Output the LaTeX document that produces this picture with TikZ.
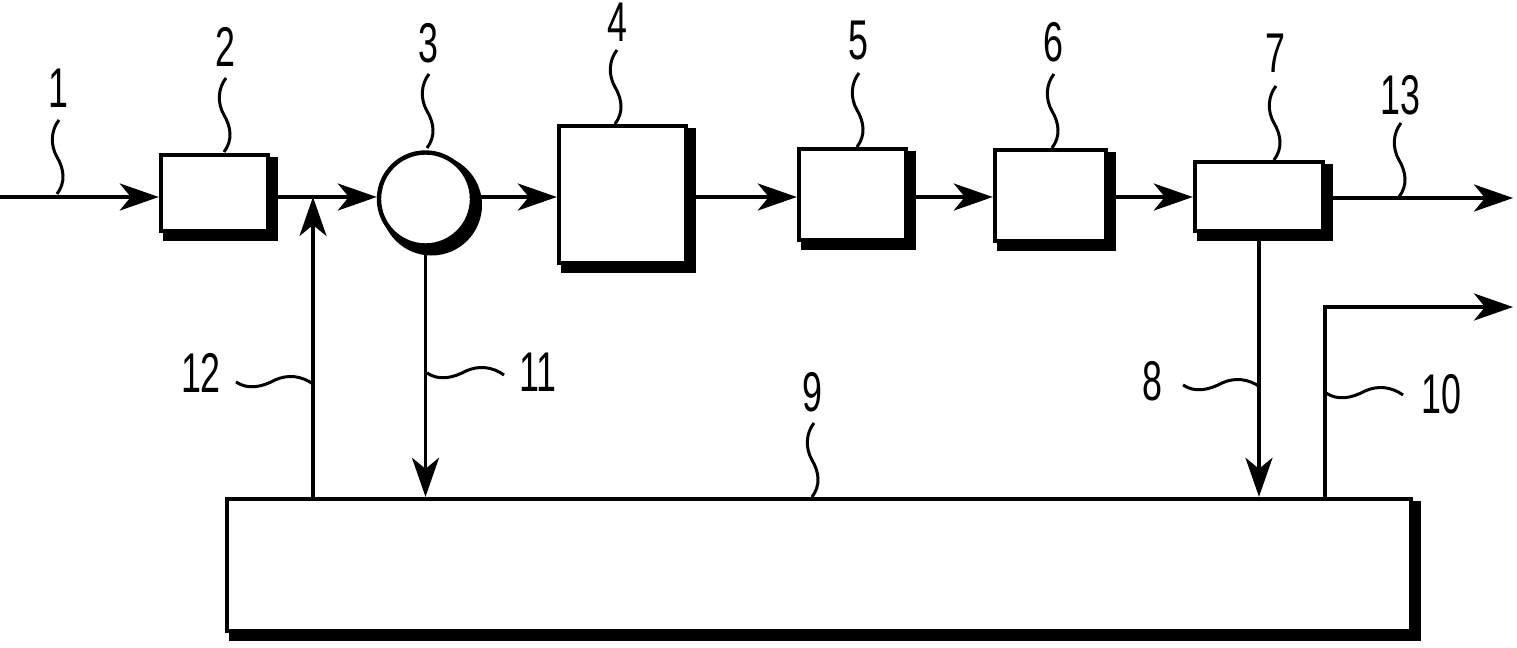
\documentclass[tikz,border=0pt]{standalone}
\usepackage{fontspec}
\setmainfont{Liberation Sans}
\usepackage{graphicx}
\usetikzlibrary{arrows.meta,shadows}
\newcommand\narrow[1]{\scalebox{0.64}[1]{#1}}
\begin{document}
\begin{tikzpicture}[x=0.5pt,y=-0.5pt,
  shd/.style={drop shadow={shadow xshift=3pt, shadow yshift=-3pt, opacity=1, fill=black, draw=black, line width=4pt}},
  blk/.style={draw, fill=white, line width=2.2pt, rectangle, inner sep=0pt, shd},
  ring/.style={draw, fill=white, line width=2.2pt, circle, inner sep=0pt, minimum size=46.5pt, shd},
  conn/.style={line width=1.8pt, -{Stealth[length=19.5pt, width=13.5pt, inset=5.5pt]}},
  plain/.style={line width=1.8pt},
  sq/.style={line width=1.5pt},
  lab/.style={font=\fontsize{28}{30}\selectfont, inner sep=0pt},
  vsq/.pic={\draw[sq] (0,0) .. controls (-8,10) and (-9,25) .. (-2,37) .. controls (5,49) and (7,62) .. (-2,74);},
  htil/.pic={\draw[sq] (0,0) .. controls (12,8) and (26,5) .. (39,-2) .. controls (52,-8) and (66,-6) .. (77,2);}
]
\useasboundingbox (0,0) rectangle (1517,648);

% blocks
\node[blk, minimum width=53.5pt, minimum height=38pt] (b2) at (214.5,193) {};
\node[ring] (c3) at (425.5,199) {};
\node[blk, minimum width=63.5pt, minimum height=68.5pt] (b4) at (622.5,194.5) {};
\node[blk, minimum width=53.5pt, minimum height=45.5pt] (b5) at (852.5,194.5) {};
\node[blk, minimum width=55.5pt, minimum height=45.5pt] (b6) at (1050.5,195.5) {};
\node[blk, minimum width=64pt, minimum height=34.5pt] (b7) at (1259,196.5) {};
\node[blk, minimum width=592pt, minimum height=66pt] (b9) at (819,565) {};

% coordinates
\coordinate (m) at (0,197);
\coordinate (in) at (0,197);
\coordinate (j12) at (313,197);
\coordinate (e13) at (1513,198);
\coordinate (k10) at (1325,307);
\coordinate (e10) at (1513,307);

% main signal path
\draw[conn] (in) -- (b2.west |- m);
\draw[conn] (b2.east |- m) -- (c3.west |- m);
\draw[conn] (c3.east |- m) -- (b4.west |- m);
\draw[conn] (b4.east |- m) -- (b5.west |- m);
\draw[conn] (b5.east |- m) -- (b6.west |- m);
\draw[conn] (b6.east |- m) -- (b7.west |- m);
\draw[conn] (b7.east |- e13) -- (e13);

% feedback / control lines
\draw[conn] (b9.north -| j12) -- (j12);
\draw[conn] (c3.south) -- (b9.north -| c3.south);
\draw[conn] (b7.south) -- (b9.north -| b7.south);
\draw[conn] (b9.north -| k10) -- (k10) -- (e10);

% labels
\node[lab] (l1) at (58,88) {\narrow{1}};
\node[lab] (l2) at (225,47) {\narrow{2}};
\node[lab] (l3) at (428,43) {\narrow{3}};
\node[lab] (l4) at (617,22) {\narrow{4}};
\node[lab] (l5) at (858,41) {\narrow{5}};
\node[lab] (l6) at (1053,42) {\narrow{6}};
\node[lab] (l7) at (1275,53) {\narrow{7}};
\node[lab] (l13) at (1400,95) {\narrow{13}};
\node[lab] (l12) at (201,373) {\narrow{12}};
\node[lab] (l11) at (538,372) {\narrow{11}};
\node[lab] (l9) at (812,392) {\narrow{9}};
\node[lab] (l8) at (1152,381) {\narrow{8}};
\node[lab] (l10) at (1441,394) {\narrow{10}};

% leader squiggles
\pic at (59,120) {vsq};
\pic at (226,78) {vsq};
\pic at (429,74) {vsq};
\pic at (617,50) {vsq};
\pic at (859,73) {vsq};
\pic at (1054,74) {vsq};
\pic at (1276,86) {vsq};
\pic at (1401,123) {vsq};
\pic at (814,423) {vsq};
\pic at (236,382) {htil};
\pic at (427,373) {htil};
\pic at (1183,385) {htil};
\pic at (1326,393) {htil};
\end{tikzpicture}
\end{document}
